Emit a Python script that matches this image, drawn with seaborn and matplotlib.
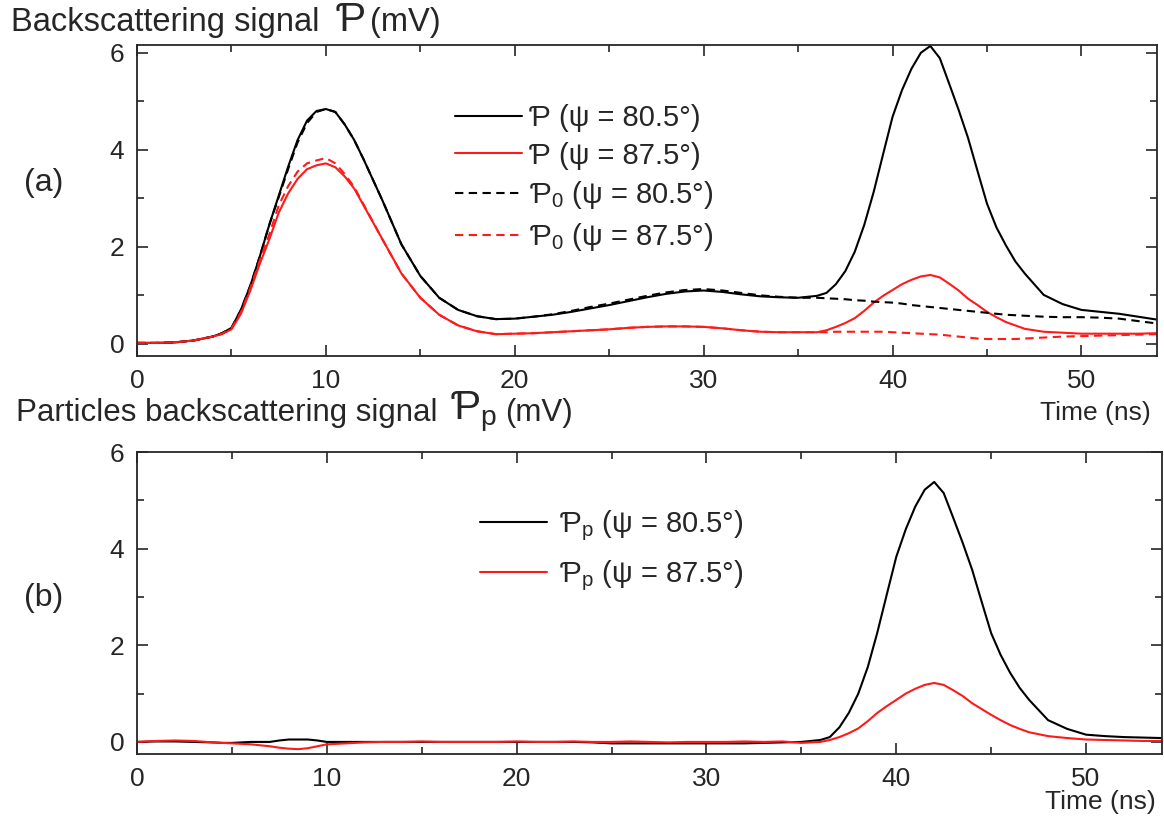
import matplotlib
matplotlib.use("Agg")
import matplotlib.pyplot as plt
import numpy as np
import pandas as pd
import seaborn as sns
from matplotlib.ticker import MultipleLocator

# time axis (ns), denser where the curves bend quickly
times = [0, 1, 2, 3, 4,
         4.5, 5, 5.5, 6, 6.5, 7, 7.5, 8, 8.5, 9, 9.5, 10, 10.5, 11, 11.5, 12,
         13, 14, 15, 16, 17, 18, 19, 20, 21, 22, 23, 24, 25, 26, 27, 28, 29, 30, 31, 32, 33, 34, 35, 36,
         36.5, 37, 37.5, 38, 38.5, 39, 39.5, 40, 40.5, 41, 41.5, 42, 42.5, 43, 43.5, 44, 44.5, 45, 45.5, 46, 46.5,
         47, 48, 49, 50, 51, 52, 53, 54]

# (a) backscattering signal P
p_805 = [0.02, 0.02, 0.03, 0.07, 0.15,
         0.22, 0.33, 0.7, 1.2, 1.8, 2.45, 3.05, 3.65, 4.2, 4.6, 4.8, 4.84, 4.78, 4.52, 4.2, 3.8,
         2.95, 2.05, 1.4, 0.95, 0.7, 0.57, 0.51, 0.52, 0.56, 0.6, 0.66, 0.73, 0.8, 0.88, 0.96, 1.03, 1.08, 1.1,
         1.07, 1.02, 0.98, 0.96, 0.95, 0.99,
         1.05, 1.23, 1.5, 1.9, 2.45, 3.13, 3.91, 4.68, 5.23, 5.67, 6.0, 6.14, 5.89, 5.36, 4.82, 4.24, 3.56, 2.89,
         2.4, 2.03, 1.7,
         1.45, 1.01, 0.82, 0.7, 0.66, 0.62, 0.56, 0.5]
p_875 = [0.02, 0.02, 0.03, 0.07, 0.15,
         0.2, 0.3, 0.62, 1.1, 1.65, 2.15, 2.7, 3.1, 3.4, 3.6, 3.68, 3.72, 3.64, 3.45, 3.2, 2.85,
         2.15, 1.45, 0.95, 0.6, 0.38, 0.26, 0.2, 0.21, 0.22, 0.24, 0.26, 0.28, 0.3, 0.33, 0.35, 0.36, 0.36, 0.35,
         0.32, 0.28, 0.25, 0.24, 0.24, 0.24,
         0.28, 0.35, 0.43, 0.53, 0.68, 0.85, 0.99, 1.11, 1.23, 1.32, 1.39, 1.42, 1.37, 1.24, 1.1, 0.93, 0.8, 0.66,
         0.55, 0.45, 0.38,
         0.31, 0.25, 0.23, 0.21, 0.21, 0.21, 0.21, 0.22]
# molecular part P0
p0_805 = [0.02, 0.02, 0.03, 0.07, 0.15,
          0.22, 0.33, 0.7, 1.2, 1.8, 2.45, 3.02, 3.6, 4.15, 4.55, 4.78, 4.84, 4.78, 4.52, 4.2, 3.8,
          2.95, 2.05, 1.4, 0.95, 0.7, 0.57, 0.51, 0.52, 0.56, 0.61, 0.68, 0.76, 0.83, 0.91, 0.99, 1.06, 1.11, 1.13,
          1.1, 1.05, 1.0, 0.97, 0.95, 0.95,
          0.94, 0.93, 0.92, 0.9, 0.89, 0.87, 0.86, 0.85, 0.83, 0.8, 0.78, 0.76, 0.74, 0.72, 0.7, 0.68, 0.66, 0.64,
          0.62, 0.6, 0.59,
          0.58, 0.56, 0.55, 0.55, 0.54, 0.52, 0.47, 0.42]
p0_875 = [0.02, 0.02, 0.03, 0.07, 0.15,
          0.21, 0.32, 0.65, 1.15, 1.72, 2.25, 2.85, 3.25, 3.55, 3.72, 3.78, 3.83, 3.72, 3.5, 3.23, 2.87,
          2.15, 1.45, 0.95, 0.6, 0.38, 0.26, 0.2, 0.21, 0.22, 0.24, 0.26, 0.28, 0.3, 0.33, 0.35, 0.36, 0.36, 0.35,
          0.32, 0.28, 0.25, 0.24, 0.24, 0.24,
          0.24, 0.25, 0.25, 0.25, 0.25, 0.25, 0.25, 0.24, 0.23, 0.22, 0.21, 0.2, 0.19, 0.17, 0.15, 0.13, 0.11, 0.1,
          0.1, 0.1, 0.1,
          0.11, 0.13, 0.15, 0.16, 0.17, 0.18, 0.19, 0.2]

# (b) particles backscattering signal Pp
pp_805 = [0.0, 0.01, 0.01, 0.0, -0.01,
          -0.02, -0.02, -0.01, 0.0, 0.0, 0.0, 0.03, 0.05, 0.05, 0.05, 0.03, 0.0, 0.0, 0.0, 0.0, 0.0,
          0.0, 0.0, 0.0, 0.0, 0.0, 0.0, 0.0, 0.0, 0.0, 0.0, 0.0, -0.01, -0.03, -0.03, -0.03, -0.03, -0.03, -0.03,
          -0.03, -0.03, -0.02, -0.01, 0.0, 0.04,
          0.1, 0.3, 0.6, 1.0, 1.55, 2.26, 3.05, 3.83, 4.4, 4.87, 5.22, 5.38, 5.15, 4.64, 4.12, 3.56, 2.9, 2.25,
          1.8, 1.43, 1.12,
          0.87, 0.45, 0.27, 0.15, 0.12, 0.1, 0.09, 0.08]
pp_875 = [0.0, 0.02, 0.03, 0.02, -0.01,
          -0.02, -0.03, -0.04, -0.05, -0.07, -0.09, -0.12, -0.14, -0.15, -0.13, -0.09, -0.05, -0.04, -0.03, -0.02, -0.01,
          0.0, 0.0, 0.01, 0.0, 0.0, 0.0, 0.0, 0.01, 0.0, 0.0, 0.01, 0.0, 0.0, 0.01, 0.0, -0.01, 0.0, 0.0,
          0.0, 0.01, 0.0, 0.01, -0.02, 0.0,
          0.04, 0.1, 0.18, 0.28, 0.43, 0.6, 0.74, 0.87, 1.0, 1.1, 1.18, 1.22, 1.18, 1.07, 0.95, 0.8, 0.68, 0.56,
          0.45, 0.35, 0.27,
          0.2, 0.12, 0.08, 0.05, 0.04, 0.03, 0.02, 0.02]

sns.set_style("ticks")
plt.rcParams['font.family'] = ['Liberation Sans', 'DejaVu Sans']
plt.rcParams['mathtext.fontset'] = 'custom'
plt.rcParams['mathtext.rm'] = 'Liberation Sans'

W, H = 1164, 821
fig = plt.figure(figsize=(W / 100, H / 100), dpi=100)
ax1 = fig.add_axes([137 / W, 1 - 356 / H, 1020 / W, 311 / H])
ax2 = fig.add_axes([137 / W, 1 - 754 / H, 1025 / W, 302 / H])

df = pd.DataFrame({"t": times, "p805": p_805, "p875": p_875, "p0805": p0_805,
                   "p0875": p0_875, "pp805": pp_805, "pp875": pp_875})

lw = 1.5
red = "#ff1a1a"
dash = (0, (4, 2.6))
sns.lineplot(data=df, x="t", y="p805", ax=ax1, color="black", lw=lw, label="Ƥ (ψ = 80.5°)")
sns.lineplot(data=df, x="t", y="p875", ax=ax1, color=red, lw=lw, label="Ƥ (ψ = 87.5°)")
sns.lineplot(data=df, x="t", y="p0805", ax=ax1, color="black", lw=lw, linestyle=dash,
             label="Ƥ$_0$ (ψ = 80.5°)")
sns.lineplot(data=df, x="t", y="p0875", ax=ax1, color=red, lw=lw, linestyle=dash,
             label="Ƥ$_0$ (ψ = 87.5°)")

sns.lineplot(data=df, x="t", y="pp805", ax=ax2, color="black", lw=lw, label="Ƥ$_\\mathrm{p}$ (ψ = 80.5°)")
sns.lineplot(data=df, x="t", y="pp875", ax=ax2, color=red, lw=lw, label="Ƥ$_\\mathrm{p}$ (ψ = 87.5°)")

for ax, ylim in ((ax1, (-0.25, 6.16)), (ax2, (-0.25, 6.0))):
    ax.set_xlim(0, 54)
    ax.set_ylim(*ylim)
    ax.xaxis.set_major_locator(MultipleLocator(10))
    ax.xaxis.set_minor_locator(MultipleLocator(5))
    ax.yaxis.set_major_locator(MultipleLocator(2))
    ax.yaxis.set_minor_locator(MultipleLocator(1))
    ax.tick_params(which="both", direction="in", top=True, right=True, labelsize=19, width=1.2)
    ax.tick_params(which="major", length=8, pad=9)
    ax.tick_params(which="minor", length=5)
    for s in ax.spines.values():
        s.set_linewidth(1.3)
        s.set_visible(True)
    ax.set_xlabel("")
    ax.set_ylabel("")

ax1.legend(loc="upper left", bbox_to_anchor=((455 - 137) / 1020, (356 - 104) / 311), frameon=False,
           fontsize=21, handlelength=2.3, handletextpad=0.25, labelspacing=0.33,
           borderaxespad=0, borderpad=0)
ax2.legend(loc="upper left", bbox_to_anchor=((480 - 137) / 1025, (754 - 508) / 302), frameon=False,
           fontsize=21, handlelength=2.3, handletextpad=0.4, labelspacing=0.55,
           borderaxespad=0, borderpad=0)


def heading(x, y, text, sym, gap1, gap2, size=23.5):
    # plain text, then the larger script P, then the unit
    fig.canvas.draw()
    r = fig.canvas.get_renderer()
    t1 = fig.text(x / W, 1 - y / H, text, fontsize=size, va="center", ha="left")
    e1 = t1.get_window_extent(r)
    t2 = fig.text((e1.x1 + gap1) / W, 1 - (y - 2) / H, sym, fontsize=29, va="center", ha="left")
    e2 = t2.get_window_extent(r)
    fig.text((e2.x1 + gap2) / W, 1 - y / H, "(mV)", fontsize=size, va="center", ha="left")


heading(11, 22, "Backscattering signal", "Ƥ", 16, 4)
heading(16, 413, "Particles backscattering signal", "Ƥ$_\\mathrm{p}$", 12, 8, size=22.5)

fig.text(44 / W, 1 - 183 / H, "(a)", fontsize=23, va="center", ha="center")
fig.text(44 / W, 1 - 598 / H, "(b)", fontsize=23, va="center", ha="center")
fig.text(1151 / W, 1 - 413 / H, "Time (ns)", fontsize=19, va="center", ha="right")
fig.text(1156 / W, 1 - 802 / H, "Time (ns)", fontsize=19, va="center", ha="right")

fig.savefig("out.png", dpi=100, facecolor="white")
